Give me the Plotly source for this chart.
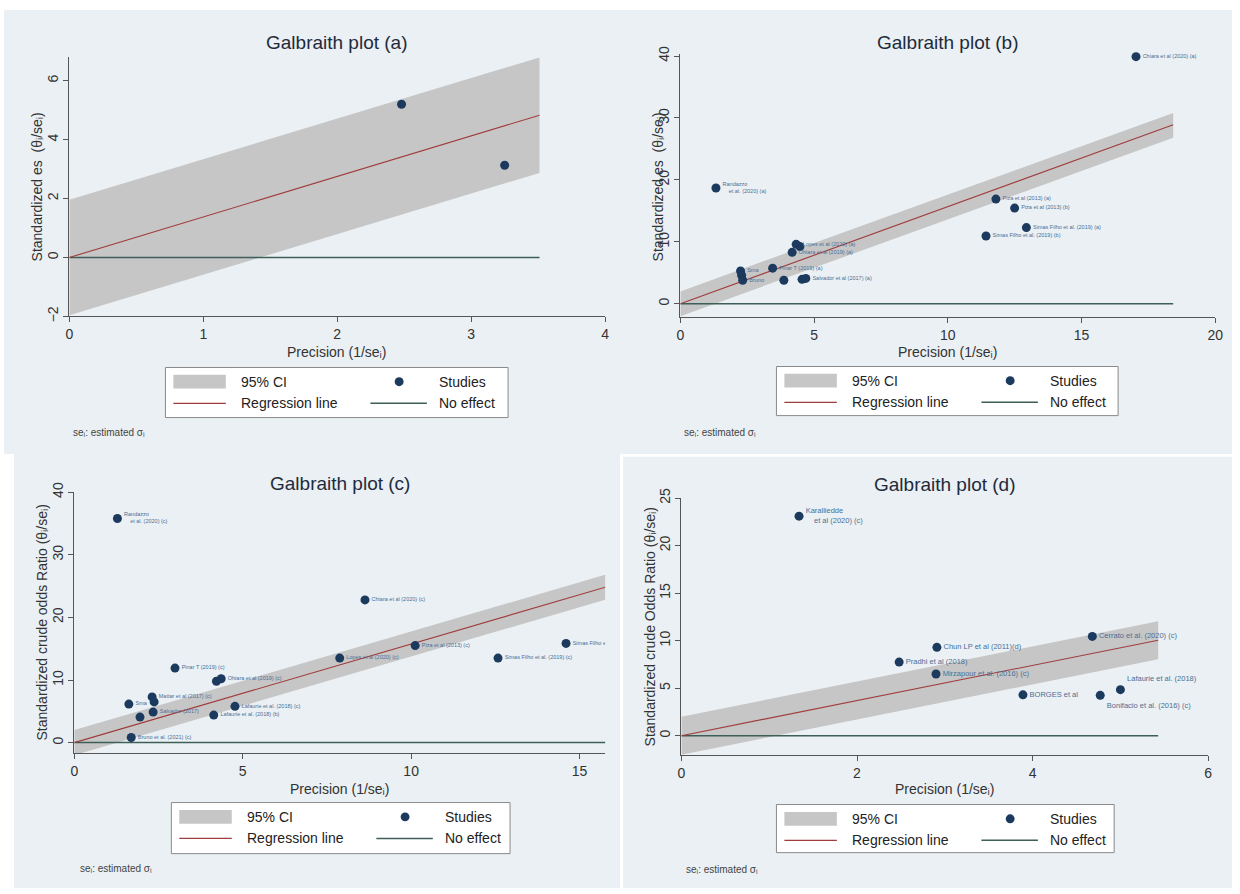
import plotly.graph_objects as go

W, H = 1240, 894
FONT = "Liberation Sans, Arial, sans-serif"

# ---------------- data ----------------
# Panel (a)
a_prec = [2.48, 3.25]
a_z = [5.2, 3.13]
a_lab = ["", ""]
a_line_x = [0, 3.51]
a_line_y = [0, 4.83]
a_ci_lo = [-1.96, 2.87]
a_ci_hi = [1.96, 6.79]
a_xticks = [0, 1, 2, 3, 4]
a_yticks = [-2, 0, 2, 4, 6]

# Panel (b)
b_prec = [17.04, 1.33, 11.8, 12.5, 12.94, 11.43, 4.33, 4.47, 4.18, 3.45, 2.25, 2.29, 2.33, 3.87, 4.55, 4.69]
b_z = [39.9, 18.7, 16.9, 15.45, 12.3, 10.95, 9.6, 9.25, 8.3, 5.75, 5.3, 4.6, 3.8, 3.8, 3.95, 4.1]
b_lab = ["Chiara et al (2020) (a)", "Randazzo<br>\u00a0\u00a0\u00a0\u00a0et al. (2020) (a)", "Piza et al (2013) (a)",
         "Piza et al (2013) (b)", "Simas Filho et al. (2019) (a)", "Simas Filho et al. (2019) (b)",
         "Lopes et al (2020) (a)", "", "Ohiara et al (2019) (a)",
         "Pinar T (2019) (a)", "Sma", "", "Bruno",
         "", "", "Salvador et al (2017) (a)"]
b_line_x = [0, 18.43]
b_line_y = [0, 28.9]
b_ci_lo = [-2.0, 26.8]
b_ci_hi = [2.0, 30.8]
b_xticks = [0, 5, 10, 15, 20]
b_yticks = [0, 10, 20, 30, 40]

# Panel (c)
c_prec = [1.28, 8.63, 14.6, 10.12, 12.58, 7.88, 2.99, 4.22, 4.36, 2.31, 2.37, 1.62, 4.77, 2.34, 1.95, 4.14, 1.69]
c_z = [35.8, 22.8, 15.85, 15.5, 13.5, 13.5, 11.9, 9.8, 10.2, 7.3, 6.5, 6.15, 5.8, 4.88, 4.08, 4.4, 0.82]
c_lab = ["Randazzo<br>\u00a0\u00a0\u00a0\u00a0et al. (2020) (c)", "Chiara et al (2020) (c)", "Simas Filho et al. (2019) (b)",
         "Piza et al (2013) (c)", "Simas Filho et al. (2019) (c)", "Lopes et al (2020) (c)",
         "Pinar T (2019) (c)", "", "Ohiara et al (2019) (c)", "Mattar et al (2017) (c)", "",
         "Sma", "Lafaurie et al. (2018) (c)", "Salvador (2017)", "",
         "Lafaurie et al. (2018) (b)", "Bruno et al. (2021) (c)"]
c_line_x = [0, 16.0]
c_line_y = [0, 25.2]
c_ci_lo = [-2.0, 23.2]
c_ci_hi = [2.0, 27.2]
c_xticks = [0, 5, 10, 15]
c_yticks = [0, 10, 20, 30, 40]

# Panel (d)
d_prec = [1.34, 4.68, 2.91, 2.48, 2.90, 3.89, 4.77, 5.0]
d_z = [23.1, 10.45, 9.3, 7.75, 6.5, 4.3, 4.25, 4.85]
d_lab = ["Karalliedde<br>\u00a0\u00a0\u00a0\u00a0et al (2020) (c)", "Cerrato et al. (2020) (c)", "Chun LP et al (2011)(d)",
         "Pradhi et al (2018)", "Mirzapour et al. (2016) (c)", "BORGES et al",
         "Bonifacio et al. (2016) (c)", "Lafaurie et al. (2018)"]
d_textpos = ["middle right", "middle right", "middle right", "middle right", "middle right",
             "middle right", "bottom right", "top right"]
d_line_x = [0, 5.43]
d_line_y = [0, 10.05]
d_ci_lo = [-2.0, 8.05]
d_ci_hi = [2.0, 12.05]
d_xticks = [0, 2, 4, 6]
d_yticks = [0, 5, 10, 15, 20, 25]

# ---------------- styling / layout ----------------
BG = "#eaf0f3"
NAVY = "#1b3a5e"
REG = "#a03c3c"
NOEFF = "#3d5f57"
BAND = "#c6c6c6"
LABC = "#4b6f98"


def fx(p):
    return p / W


def fy(p):
    return 1 - p / H


panels = [
    dict(n="", prec=a_prec, z=a_z, lab=a_lab, lx=a_line_x, ly=a_line_y, lo=a_ci_lo, hi=a_ci_hi,
         xt=a_xticks, yt=a_yticks, title="Galbraith plot (a)",
         ytitle="Standardized es  (θᵢ/seᵢ)", tp="middle right",
         xdom=(66, 607), ydom=(48, 312), xr=(0, 4), yr=(-2, 6.8),
         tpos=(336, 33), xtpos=(336, 348), ytpos=(33, 180), note=(68, 430),
         leg=(163, 364, 509, 415), bg=(0, 0, 621, 452), labsize=6, clip=False),
    dict(n="2", prec=b_prec, z=b_z, lab=b_lab, lx=b_line_x, ly=b_line_y, lo=b_ci_lo, hi=b_ci_hi,
         xt=b_xticks, yt=b_yticks, title="Galbraith plot (b)",
         ytitle="Standardized es  (θᵢ/seᵢ)", tp="middle right",
         xdom=(683, 1223), ydom=(45, 313), xr=(0, 20), yr=(-2.2, 40.3),
         tpos=(953, 33), xtpos=(953, 348), ytpos=(660, 180), note=(685, 430),
         leg=(780, 363, 1125, 413), bg=(621, 0, 1240, 452), labsize=5.5, clip=False),
    dict(n="3", prec=c_prec, z=c_z, lab=c_lab, lx=c_line_x, ly=c_line_y, lo=c_ci_lo, hi=c_ci_hi,
         xt=c_xticks, yt=c_yticks, title="Galbraith plot (c)",
         ytitle="Standardized crude odds Ratio (θᵢ/seᵢ)", tp="middle right",
         xdom=(71, 607), ydom=(491, 757), xr=(0, 15.76), yr=(-1.73, 40),
         tpos=(339, 482), xtpos=(339, 793), ytpos=(38, 624), note=(75, 874),
         leg=(169, 807, 511, 859), bg=(10, 452, 622, 894), labsize=5.5, clip=True),
    dict(n="4", prec=d_prec, z=d_z, lab=d_lab, lx=d_line_x, ly=d_line_y, lo=d_ci_lo, hi=d_ci_hi,
         xt=d_xticks, yt=d_yticks, title="Galbraith plot (d)",
         ytitle="Standardized crude Odds Ratio (θᵢ/seᵢ)", tp=d_textpos,
         xdom=(684, 1216), ydom=(497, 759), xr=(0, 6), yr=(-2.07, 25),
         tpos=(950, 483), xtpos=(950, 793), ytpos=(652, 628), note=(687, 875),
         leg=(780, 809, 1121, 858), bg=(625, 455, 1240, 894), labsize=7.5, clip=True),
]

fig = go.Figure()
shapes = []
annotations = []
layout_axes = {}

for p in panels:
    xa = "x" + p["n"]
    ya = "y" + p["n"]
    # background of the graph panel
    b = p["bg"]
    shapes.append(dict(type="rect", xref="paper", yref="paper", x0=fx(b[0]), x1=fx(b[2]),
                       y0=fy(b[3]), y1=fy(b[1]), fillcolor=BG, line=dict(width=0), layer="below"))

    # 95% CI band
    fig.add_trace(go.Scatter(
        x=[p["lx"][0], p["lx"][1], p["lx"][1], p["lx"][0]],
        y=[p["lo"][0], p["lo"][1], p["hi"][1], p["hi"][0]],
        fill="toself", fillcolor=BAND, line=dict(width=0), mode="lines",
        xaxis=xa, yaxis=ya, showlegend=False, hoverinfo="skip"))
    # No effect line
    fig.add_trace(go.Scatter(x=p["lx"], y=[0, 0], mode="lines",
                             line=dict(color=NOEFF, width=1.5),
                             xaxis=xa, yaxis=ya, showlegend=False))
    # Regression line
    fig.add_trace(go.Scatter(x=p["lx"], y=p["ly"], mode="lines",
                             line=dict(color=REG, width=1.1),
                             xaxis=xa, yaxis=ya, showlegend=False))
    # Studies
    fig.add_trace(go.Scatter(x=p["prec"], y=p["z"], mode="markers+text",
                             text=p["lab"], textposition=p["tp"],
                             textfont=dict(size=p["labsize"], color=LABC, family=FONT),
                             marker=dict(size=9, color=NAVY),
                             cliponaxis=p["clip"],
                             xaxis=xa, yaxis=ya, showlegend=False))

    axis_common = dict(showline=True, linecolor="#555", linewidth=1, ticks="outside",
                       ticklen=5, tickcolor="#555", zeroline=False,
                       tickfont=dict(size=14, color="#333", family=FONT))
    layout_axes["xaxis" + p["n"]] = dict(
        domain=[fx(p["xdom"][0]), fx(p["xdom"][1])], range=list(p["xr"]),
        tickvals=p["xt"], showgrid=False, anchor=ya, **axis_common)
    layout_axes["yaxis" + p["n"]] = dict(
        domain=[fy(p["ydom"][1]), fy(p["ydom"][0])], range=list(p["yr"]),
        tickvals=p["yt"], showgrid=True, gridcolor="#e9eff2", gridwidth=1,
        tickangle=-90, anchor=xa, **axis_common)

    # titles
    annotations.append(dict(text=p["title"], x=fx(p["tpos"][0]), y=fy(p["tpos"][1]),
                            xref="paper", yref="paper", showarrow=False,
                            xanchor="center", yanchor="middle",
                            font=dict(size=19, color="#1e2b3c", family=FONT)))
    annotations.append(dict(text="Precision (1/seᵢ)", x=fx(p["xtpos"][0]), y=fy(p["xtpos"][1]),
                            xref="paper", yref="paper", showarrow=False,
                            xanchor="center", yanchor="middle",
                            font=dict(size=14, color="#333", family=FONT)))
    annotations.append(dict(text=p["ytitle"], x=fx(p["ytpos"][0]), y=fy(p["ytpos"][1]),
                            xref="paper", yref="paper", showarrow=False, textangle=-90,
                            xanchor="center", yanchor="middle",
                            font=dict(size=14, color="#333", family=FONT)))
    annotations.append(dict(text="seᵢ: estimated σᵢ", x=fx(p["note"][0]), y=fy(p["note"][1]),
                            xref="paper", yref="paper", showarrow=False,
                            xanchor="left", yanchor="middle",
                            font=dict(size=10, color="#444", family=FONT)))

    # legend box (drawn)
    L, T, R, B = p["leg"]
    shapes.append(dict(type="rect", xref="paper", yref="paper", x0=fx(L), x1=fx(R),
                       y0=fy(B), y1=fy(T), fillcolor="white", line=dict(color="#8a8a8a", width=1)))
    r1 = T + 14.5
    r2 = T + 36.5
    shapes.append(dict(type="rect", xref="paper", yref="paper", x0=fx(L + 8), x1=fx(L + 61),
                       y0=fy(r1 + 7), y1=fy(r1 - 7), fillcolor=BAND, line=dict(width=0)))
    shapes.append(dict(type="line", xref="paper", yref="paper", x0=fx(L + 8), x1=fx(L + 61),
                       y0=fy(r2), y1=fy(r2), line=dict(color=REG, width=1.1)))
    shapes.append(dict(type="line", xref="paper", yref="paper", x0=fx(L + 207), x1=fx(L + 264),
                       y0=fy(r2), y1=fy(r2), line=dict(color=NOEFF, width=1.5)))
    shapes.append(dict(type="circle", xref="paper", yref="paper", x0=fx(L + 231.5), x1=fx(L + 240.5),
                       y0=fy(r1 + 4.5), y1=fy(r1 - 4.5), fillcolor=NAVY, line=dict(width=0)))
    for txt, xx, yy in [("95% CI", L + 74, r1), ("Regression line", L + 74, r2),
                        ("Studies", L + 274, r1), ("No effect", L + 274, r2)]:
        annotations.append(dict(text=txt, x=fx(xx), y=fy(yy), xref="paper", yref="paper",
                                showarrow=False, xanchor="left", yanchor="middle",
                                font=dict(size=14, color="#222", family=FONT)))

fig.update_layout(
    width=W, height=H, margin=dict(l=0, r=0, t=0, b=0),
    paper_bgcolor="white", plot_bgcolor="white",
    font=dict(family=FONT), showlegend=False,
    shapes=shapes, annotations=annotations, **layout_axes)

fig.write_html("out.html")
